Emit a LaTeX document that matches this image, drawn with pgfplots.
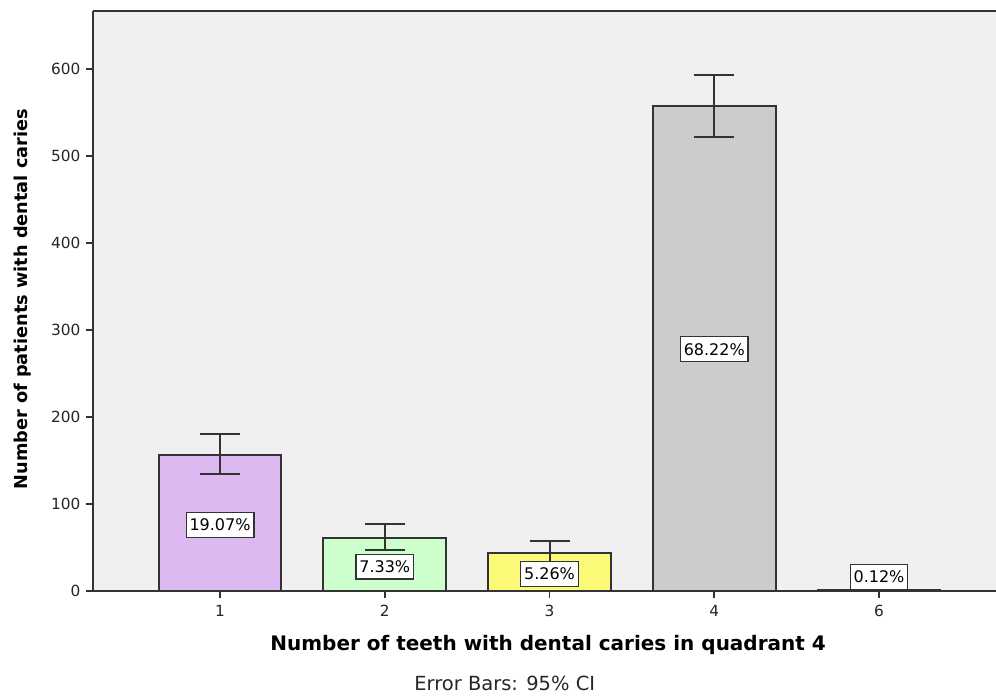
\documentclass[border=0pt]{standalone}
\usepackage{pgfplots}
\pgfplotsset{compat=1.18}
\usepackage{fontspec}
\setmainfont{DejaVu Sans}
\definecolor{bgc}{HTML}{F0F0F0}
\definecolor{cA}{HTML}{DCB9F0}
\definecolor{cB}{HTML}{CCFFCC}
\definecolor{cC}{HTML}{FAFA78}
\definecolor{cD}{HTML}{CCCCCC}
\definecolor{edge}{HTML}{333333}
\begin{document}
\begin{tikzpicture}
\useasboundingbox (0,0) rectangle (747pt,522.75pt);
\begin{axis}[
  at={(69.75pt,79.5pt)}, anchor=south west,
  scale only axis, width=677.25pt, height=435pt,
  xmin=-0.771, xmax=4.71, ymin=0, ymax=667,
  axis x line*=bottom, axis y line*=left,
  axis line style={edge, line width=1.4pt},
  axis background/.style={fill=bgc},
  clip=false,
  ybar, bar width=92pt, bar shift=0pt,
  xtick={0,1,2,3,4}, xticklabels={1,2,3,4,6},
  ytick={0,100,200,300,400,500,600},
  /pgf/number format/assume math mode=true,
  tick align=outside, major tick length=5pt,
  tick style={edge, line width=1.4pt},
  ticklabel style={font=\fontsize{11.5}{13}\selectfont, text=black!85},
  xticklabel style={yshift=-2pt},
  yticklabel style={xshift=-1pt},
  xlabel={\bfseries Number of teeth with dental caries in quadrant 4},
  ylabel={\bfseries Number of patients with dental caries},
  xlabel style={at={(axis description cs:0.504,-0.0931)}, anchor=center, font=\fontsize{15}{17}\selectfont},
  ylabel style={at={(axis description cs:-0.0785,0.503)}, anchor=center, font=\fontsize{13.3}{15}\selectfont},
  every axis plot/.append style={draw=edge, line width=1.5pt,
     error bars/y dir=both, error bars/y explicit,
     error bars/error bar style={line width=1.5pt, edge},
     error bars/error mark options={rotate=90, line width=1.5pt, edge, mark size=15pt}},
]
\addplot[fill=cA] coordinates {(0,156.5) += (0,24) -= (0,21.5)};
\addplot[fill=cB] coordinates {(1,60.5) += (0,16) -= (0,13.5)};
\addplot[fill=cC] coordinates {(2,43.2) += (0,14.1) -= (0,10.3)};
\addplot[fill=cD] coordinates {(3,557.3) += (0,35.9) -= (0,35.3)};
\addplot[fill=white] coordinates {(4,1) += (0,3.6) -= (0,1)};
\draw[edge, line width=1.4pt] (rel axis cs:0,1) -- (rel axis cs:1,1);
\tikzset{pct/.style={draw=edge, line width=1pt, fill=white, inner xsep=2.5pt, inner ysep=4.8pt, font=\fontsize{12}{13}\selectfont}}
\node[pct] at (axis cs:0,76) {19.07\%};
\node[pct] at (axis cs:1,28) {7.33\%};
\node[pct] at (axis cs:2,19.5) {5.26\%};
\node[pct] at (axis cs:3,278) {68.22\%};
\node[pct] at (axis cs:4,16) {0.12\%};
\node[font=\fontsize{14.6}{16}\selectfont, text=black!85] at (rel axis cs:0.456,-0.1586) {Error Bars: 95\% CI};
\end{axis}
\end{tikzpicture}
\end{document}
